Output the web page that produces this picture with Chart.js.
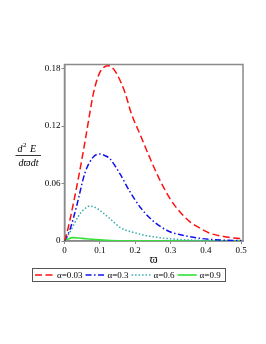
<!DOCTYPE html>
<html>
<head>
<meta charset="utf-8">
<script src="https://cdn.jsdelivr.net/npm/chart.js@4/dist/chart.umd.min.js"></script>
<style>
html,body{margin:0;padding:0;background:#fff;}
#wrap{width:266px;height:344px;position:relative;}
</style>
</head>
<body>
<div id="wrap"><canvas id="c" width="266" height="344"></canvas></div>
<script>
// ---- data ----
const seriesLabels = ['α=0.03', 'α=0.3', 'α=0.6', 'α=0.9'];

const xRed = [0, 0.01, 0.02, 0.03, 0.04, 0.05, 0.06, 0.07, 0.08, 0.09, 0.1, 0.11, 0.123, 0.135, 0.15, 0.171, 0.19, 0.213, 0.24, 0.268, 0.298, 0.325, 0.355, 0.385, 0.412, 0.45, 0.487, 0.5];
const yRed = [0, 0.013, 0.03, 0.048, 0.067, 0.087, 0.108, 0.13, 0.151, 0.166, 0.176, 0.181, 0.183, 0.181, 0.173, 0.155, 0.132, 0.112, 0.088, 0.065, 0.0445, 0.031, 0.02, 0.013, 0.008, 0.0048, 0.0028, 0.0024];

const xBlue = [0, 0.015, 0.034, 0.0575, 0.08, 0.1, 0.115, 0.128, 0.157, 0.185, 0.213, 0.242, 0.27, 0.298, 0.325, 0.355, 0.38, 0.41, 0.45, 0.5];
const yBlue = [0, 0.0115, 0.036, 0.0706, 0.087, 0.0908, 0.089, 0.086, 0.070, 0.0515, 0.0358, 0.0237, 0.0155, 0.0097, 0.0068, 0.0045, 0.003, 0.0017, 0.0009, 0.0004];

const xCyan = [0, 0.015, 0.0385, 0.055, 0.0717, 0.09, 0.11, 0.128, 0.16, 0.19, 0.223, 0.25, 0.28, 0.32, 0.37, 0.43, 0.5];
const yCyan = [0, 0.009, 0.0254, 0.033, 0.0365, 0.0345, 0.029, 0.0235, 0.0135, 0.0095, 0.0063, 0.0045, 0.003, 0.0017, 0.0008, 0.0003, 0.0001];

const xGreen = [0, 0.01, 0.024, 0.04, 0.06, 0.09, 0.13, 0.18, 0.25, 0.5];
const yGreen = [0, 0.002, 0.0035, 0.0032, 0.0024, 0.0014, 0.0006, 0.0002, 0.0001, 0];

const xTicks = [0, 0.1, 0.2, 0.3, 0.4, 0.5];
const yTicks = [0, 0.06, 0.12, 0.18];
const xTickLabels = ['0', '0.1', '0.2', '0.3', '0.4', '0.5'];
const yTickLabels = ['0', '0.06', '0.12', '0.18'];

const SERIF = '"Liberation Serif", "DejaVu Serif", serif';

function pts(xs, ys) { return xs.map((x, i) => ({x: x, y: ys[i]})); }

const boxPlugin = {
  id: 'box',
  beforeDatasetsDraw(chart) {
    const a = chart.chartArea, ctx = chart.ctx;
    ctx.save();
    ctx.strokeStyle = '#8a8a8a';
    ctx.lineWidth = 1.5;
    ctx.strokeRect(a.left, a.top, a.right - a.left, a.bottom - a.top);
    ctx.restore();
  },
  afterDraw(chart) {
    const ctx = chart.ctx;
    ctx.save();
    // y-axis fraction title
    ctx.fillStyle = '#000';
    ctx.textBaseline = 'alphabetic';
    ctx.font = 'italic 10px ' + SERIF;
    ctx.textAlign = 'left';
    ctx.fillText('d', 17.5, 152);
    ctx.font = '7px ' + SERIF;
    ctx.fillText('2', 23, 147);
    ctx.font = 'italic 10px ' + SERIF;
    ctx.fillText('E', 30, 152);
    ctx.strokeStyle = '#000';
    ctx.lineWidth = 0.8;
    ctx.beginPath(); ctx.moveTo(15.5, 155.5); ctx.lineTo(41, 155.5); ctx.stroke();
    ctx.textAlign = 'center';
    ctx.fillText('dϖdt', 28.5, 166);

    // legend with border
    const bx = 32.5, by = 268.5, bw = 193, bh = 13;
    ctx.strokeStyle = '#555';
    ctx.lineWidth = 1;
    ctx.strokeRect(bx, by, bw, bh);
    ctx.font = '9px ' + SERIF;
    ctx.textAlign = 'left';
    ctx.textBaseline = 'middle';
    let x = 35;
    const cy = 275;
    chart.data.datasets.forEach(ds => {
      ctx.save();
      ctx.strokeStyle = ds.borderColor;
      ctx.lineWidth = ds.borderWidth;
      ctx.setLineDash(ds.borderDash || []);
      ctx.beginPath(); ctx.moveTo(x, cy); ctx.lineTo(x + 19, cy); ctx.stroke();
      ctx.restore();
      ctx.fillStyle = '#000';
      ctx.fillText(ds.label, x + 22, cy + 0.5);
      x += 22 + ctx.measureText(ds.label).width + 3;
    });
    ctx.restore();
  }
};

new Chart(document.getElementById('c'), {
  type: 'line',
  data: {
    datasets: [
      {label: seriesLabels[0], data: pts(xRed, yRed), borderColor: '#ff1010', borderWidth: 1.5, borderDash: [7, 3.5], pointRadius: 0, cubicInterpolationMode: 'monotone', fill: false},
      {label: seriesLabels[1], data: pts(xBlue, yBlue), borderColor: '#1010ee', borderWidth: 1.5, borderDash: [6, 2.5, 1.5, 2.5], pointRadius: 0, cubicInterpolationMode: 'monotone', fill: false},
      {label: seriesLabels[2], data: pts(xCyan, yCyan), borderColor: '#36abab', borderWidth: 1.5, borderDash: [1.5, 2], pointRadius: 0, cubicInterpolationMode: 'monotone', fill: false},
      {label: seriesLabels[3], data: pts(xGreen, yGreen), borderColor: '#33e033', borderWidth: 1.6, pointRadius: 0, cubicInterpolationMode: 'monotone', fill: false}
    ]
  },
  options: {
    responsive: false,
    animation: false,
    devicePixelRatio: 1,
    layout: {padding: {left: 0, top: 64.5, right: 23, bottom: 73}},
    plugins: {legend: {display: false}, tooltip: {enabled: false}},
    scales: {
      x: {
        type: 'linear', min: 0, max: 0.505,
        afterFit(s) { s.height = 30; },
        afterBuildTicks(s) { s.ticks = xTicks.map(v => ({value: v})); },
        grid: {drawOnChartArea: false, drawTicks: true, tickLength: 3, color: '#8a8a8a', lineWidth: 1},
        border: {display: true, color: '#8a8a8a', width: 1.5},
        ticks: {
          color: '#000', padding: 1, maxRotation: 0, autoSkip: false,
          font: {family: SERIF, size: 9},
          callback: (v) => { const i = xTicks.indexOf(v); return i >= 0 ? xTickLabels[i] : ''; }
        },
        title: {display: true, text: 'ϖ', color: '#000', font: {family: SERIF, size: 12}, padding: {top: 0, bottom: 4}}
      },
      y: {
        type: 'linear', min: 0, max: 0.1842,
        afterFit(s) { s.width = 64.5; },
        afterBuildTicks(s) { s.ticks = yTicks.map(v => ({value: v})); },
        grid: {drawOnChartArea: false, drawTicks: true, tickLength: 3, color: '#8a8a8a', lineWidth: 1},
        border: {display: true, color: '#8a8a8a', width: 1.5},
        ticks: {
          color: '#000', padding: 1, autoSkip: false,
          font: {family: SERIF, size: 9},
          callback: (v) => { const i = yTicks.indexOf(v); return i >= 0 ? yTickLabels[i] : ''; }
        }
      }
    }
  },
  plugins: [boxPlugin]
});
</script>
</body>
</html>
